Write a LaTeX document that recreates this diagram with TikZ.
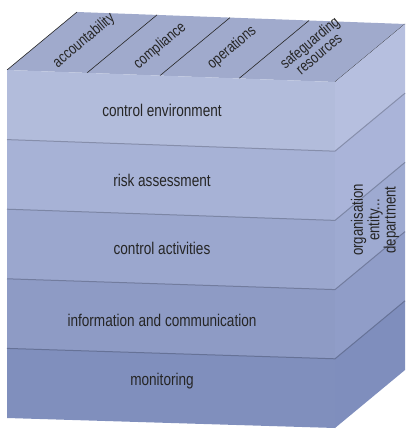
\documentclass[tikz,border=0pt]{standalone}
\usepackage{fontspec}
\setsansfont{Liberation Sans}
\newfontfamily\narrowfont[FakeStretch=0.8]{Liberation Sans}
\definecolor{topface}{HTML}{A0AACC}
\definecolor{f0}{HTML}{B2BCDB}\definecolor{s0}{HTML}{B6BFDF}
\definecolor{f1}{HTML}{A7B2D6}\definecolor{s1}{HTML}{AAB4D9}
\definecolor{f2}{HTML}{9BA7CE}\definecolor{s2}{HTML}{9EAAD1}
\definecolor{f3}{HTML}{8E9BC5}\definecolor{s3}{HTML}{909DC8}
\definecolor{f4}{HTML}{808FBD}\definecolor{s4}{HTML}{7F8EBD}

\begin{document}
\begin{tikzpicture}[x=1pt,y=-1pt,font=\narrowfont,text=black!85,
  ridge/.style={draw=black!85,line width=.6pt},
  seam/.style={draw=#1!80!black,line width=1pt},
  lab/.style={font=\narrowfont\fontsize{17}{18}\selectfont,inner sep=0pt},
  toplab/.style={font=\narrowfont\fontsize{15.5}{14.5}\selectfont,rotate=40,align=center,inner sep=0pt}]
\useasboundingbox (0,0) rectangle (415,430);
% top face
\fill[topface] (7,70) -- (335,82) -- (405,24) -- (77,12) -- cycle;
\foreach \xa/\ya in {7/70,87/72.9,160/75.6,239/78.5,335/82}{\draw[ridge] (\xa,\ya) -- (\xa+70,\ya-58);}
\node[toplab] (acc) at (84,41){accountability};
\node[toplab] (comp) at (160,46){compliance};
\node[toplab] (oper) at (232,48){operations};
\node[toplab] (safe) at (314,48){safeguarding\\resources};
% five layers, top to bottom
\foreach \i/\ty/\lab in {0/110/control environment,1/180/risk assessment,2/248/control activities,3/320/information and communication,4/381/monitoring}{
  \fill[f\i] (7,70+69.6*\i) -- (335,82+69.2*\i) -- (335,151.2+69.2*\i) -- (7,139.6+69.6*\i) -- cycle;
  \fill[s\i] (335,82+69.2*\i) -- (405,24+69.2*\i) -- (405,93.2+69.2*\i) -- (335,151.2+69.2*\i) -- cycle;
  \node[lab] (layer\i) at (162,\ty){\lab};
}
\foreach \i in {1,2,3,4}{\draw[seam=f\i] (7,70+69.6*\i) -- (335,82+69.2*\i) -- (405,24+69.2*\i);}
\node[lab,rotate=90,align=center,font=\narrowfont\fontsize{16.5}{15}\selectfont] (org) at (375,220){organisation\\entity...\\department};
\end{tikzpicture}
\end{document}
